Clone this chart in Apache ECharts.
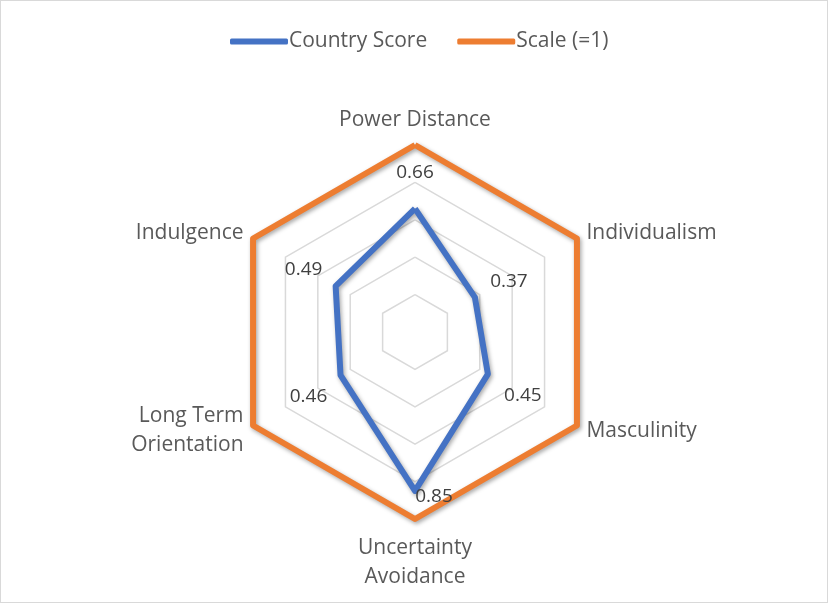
<!DOCTYPE html>
<html>
<head>
<meta charset="utf-8">
<script src="https://cdn.jsdelivr.net/npm/echarts@6/dist/echarts.min.js"></script>
<style>
  html, body { margin: 0; padding: 0; background: #fff; }
  #chart {
    width: 826px;
    height: 601px;
    border: 1px solid #d9d9d9;
  }
</style>
</head>
<body>
<div id="chart"></div>
<script>
// indicators in ECharts order (counter-clockwise from the top)
const indicatorNames = [
  'Power Distance',
  'Indulgence',
  'Long Term\nOrientation',
  'Uncertainty\nAvoidance',
  'Masculinity',
  'Individualism',
];
const countryScore = [0.66, 0.49, 0.46, 0.85, 0.45, 0.37];
const scaleValues = [1, 1, 1, 1, 1, 1];
const seriesNames = ['Country Score', 'Scale (=1)'];

// where each value label sits relative to its point
const labelOffsets = [
  [0, -36],
  [-32, -17],
  [-32, 22],
  [19, 6],
  [35, 22],
  [34, -16],
];

const textFont = 'Open Sans';
const myChart = echarts.init(document.getElementById('chart'));

const lineShadow = {
  shadowColor: 'rgba(0, 0, 0, 0.35)',
  shadowBlur: 4,
  shadowOffsetX: 1.5,
  shadowOffsetY: 2,
};

// one invisible series per label so every label can be placed on its own
const labelSeries = countryScore.map((val, ind) => ({
  type: 'radar',
  silent: true,
  symbol: 'circle',
  symbolSize: 1,
  itemStyle: { color: 'rgba(0,0,0,0)' },
  lineStyle: { width: 0, opacity: 0 },
  label: {
    show: true,
    position: 'inside',
    offset: labelOffsets[ind],
    color: '#404040',
    fontFamily: textFont,
    fontSize: 19,
    formatter: (p) => (p.value === val ? p.value.toFixed(2) : ''),
  },
  data: [{ value: countryScore }],
  z: 5,
}));

myChart.setOption({
  animation: false,
  legend: {
    data: seriesNames,
    top: 25,
    left: 224,
    icon: 'roundRect',
    itemWidth: 58,
    itemHeight: 6,
    itemGap: 30,
    textStyle: {
      color: '#595959',
      fontFamily: textFont,
      fontSize: 21,
      padding: [0, 0, 0, -4],
    },
  },
  radar: {
    center: [414, 331],
    radius: 187,
    startAngle: 90,
    shape: 'polygon',
    splitNumber: 5,
    nameGap: 11,
    indicator: indicatorNames.map((name) => ({ name, min: 0, max: 1 })),
    axisName: {
      color: '#595959',
      fontFamily: textFont,
      fontSize: 21,
      lineHeight: 29,
      padding: [4, 0, -1, 0],
    },
    axisLine: { show: false },
    axisTick: { show: false },
    axisLabel: { show: false },
    splitArea: { show: false },
    splitLine: {
      lineStyle: { color: '#d9d9d9', width: 1.5 },
    },
  },
  series: [
    {
      name: seriesNames[0],
      type: 'radar',
      symbol: 'none',
      itemStyle: { color: '#4472C4' },
      lineStyle: { color: '#4472C4', width: 6, ...lineShadow },
      data: [{ value: countryScore, name: seriesNames[0] }],
    },
    {
      name: seriesNames[1],
      type: 'radar',
      symbol: 'none',
      itemStyle: { color: '#ED7D31' },
      lineStyle: { color: '#ED7D31', width: 6, ...lineShadow },
      data: [{ value: scaleValues, name: seriesNames[1] }],
    },
    ...labelSeries,
  ],
});
</script>
</body>
</html>
